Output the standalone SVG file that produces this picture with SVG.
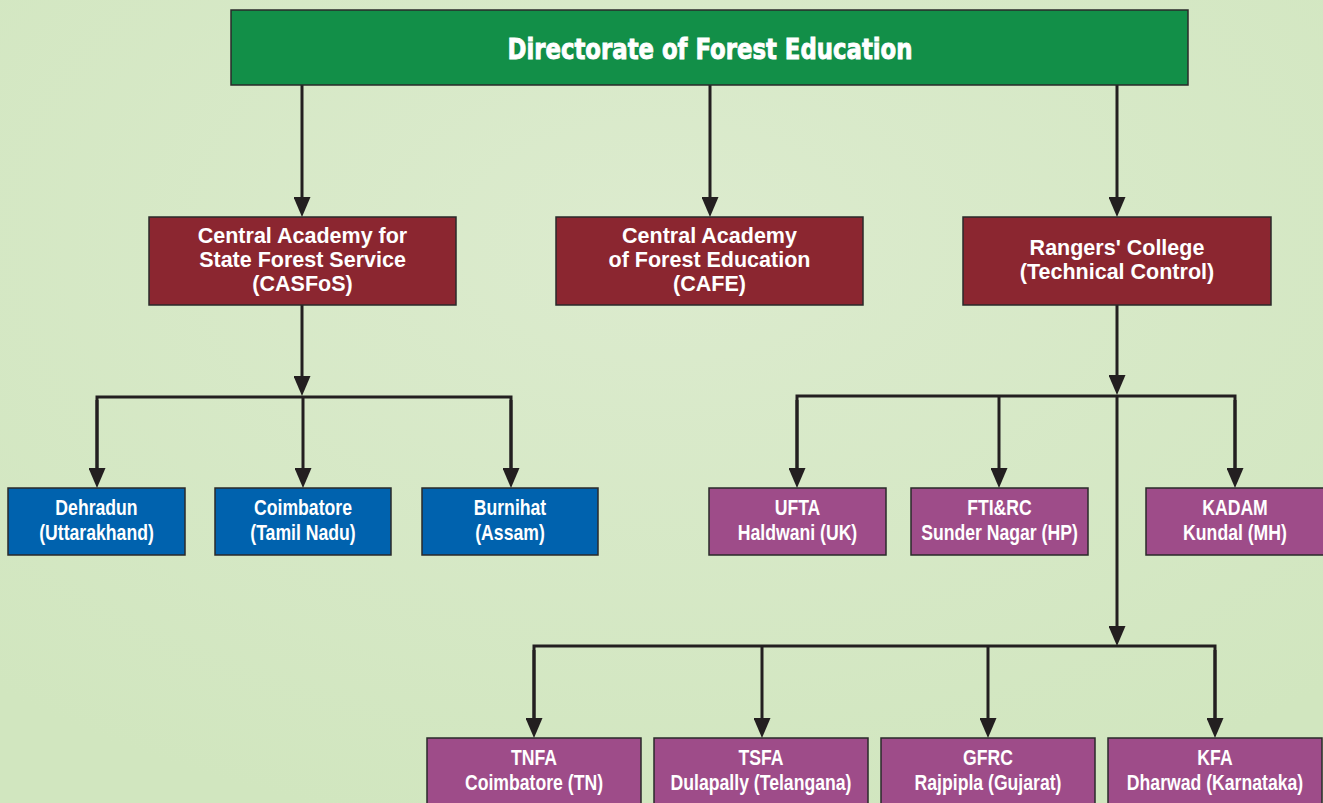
<svg xmlns="http://www.w3.org/2000/svg" width="1323" height="803" viewBox="0 0 1323 803">
<defs>
<radialGradient id="bg" cx="0.5" cy="0.3" r="0.75">
<stop offset="0" stop-color="#dcebce"/>
<stop offset="1" stop-color="#d1e6bf"/>
</radialGradient>
<marker id="ah" markerUnits="userSpaceOnUse" markerWidth="20" markerHeight="17" refX="14" refY="8.5" orient="auto" viewBox="0 0 20 17">
<path d="M0,0 L20,8.5 L0,17 Z" fill="#231f20"/>
</marker>
</defs>
<style>
.box{stroke:#2a2a2a;stroke-width:1.5}
.green{fill:#128f48}
.red{fill:#8b2630}
.blue{fill:#0062ae}
.purple{fill:#9e4c89}
.title{font-family:"DejaVu Sans",sans-serif;font-weight:bold;font-size:28px;fill:#fff;stroke:#fff;stroke-width:0.9;text-anchor:middle}
.mid{font-family:"Liberation Sans",Arial,sans-serif;font-weight:bold;font-size:21.5px;fill:#fff;text-anchor:middle}
.sm{font-family:"Liberation Sans",Arial,sans-serif;font-weight:bold;font-size:21.5px;fill:#fff;text-anchor:middle}
.ln{fill:none;stroke:#231f20;stroke-width:3}
.ar{fill:none;stroke:#231f20;stroke-width:3;marker-end:url(#ah)}
</style>
<rect width="1323" height="803" fill="url(#bg)"/>
<g id="connectors">
<line class="ar" x1="302" y1="85" x2="302" y2="211"/>
<line class="ar" x1="710" y1="85" x2="710" y2="211"/>
<line class="ar" x1="1117" y1="85" x2="1117" y2="211"/>
<line class="ar" x1="302" y1="305" x2="302" y2="390"/>
<polyline class="ln" points="97,482 97,397 511,397 511,482"/>
<line class="ar" x1="97" y1="400" x2="97" y2="482"/>
<line class="ar" x1="303" y1="397" x2="303" y2="482"/>
<line class="ar" x1="511" y1="400" x2="511" y2="482"/>
<line class="ar" x1="1117" y1="305" x2="1117" y2="389"/>
<polyline class="ln" points="797,482 797,396 1235,396 1235,482"/>
<line class="ar" x1="797" y1="400" x2="797" y2="482"/>
<line class="ar" x1="999" y1="396" x2="999" y2="482"/>
<line class="ar" x1="1235" y1="400" x2="1235" y2="482"/>
<line class="ar" x1="1117" y1="396" x2="1117" y2="640"/>
<polyline class="ln" points="534,732 534,646 1215,646 1215,732"/>
<line class="ar" x1="534" y1="650" x2="534" y2="732"/>
<line class="ar" x1="762" y1="646" x2="762" y2="732"/>
<line class="ar" x1="988" y1="646" x2="988" y2="732"/>
<line class="ar" x1="1215" y1="650" x2="1215" y2="732"/>
</g>
<g id="dfe">
<rect class="box green" x="231" y="10" width="957" height="75"/>
<text class="title" x="710" y="59" textLength="405" lengthAdjust="spacingAndGlyphs">Directorate of Forest Education</text>
</g>
<g id="casfos">
<rect class="box red" x="149" y="217" width="307" height="88"/>
<text class="mid" x="302.5" y="243">Central Academy for</text>
<text class="mid" x="302.5" y="267">State Forest Service</text>
<text class="mid" x="302.5" y="291">(CASFoS)</text>
</g>
<g id="cafe">
<rect class="box red" x="556" y="217" width="307" height="88"/>
<text class="mid" x="709.5" y="243">Central Academy</text>
<text class="mid" x="709.5" y="267">of Forest Education</text>
<text class="mid" x="709.5" y="291">(CAFE)</text>
</g>
<g id="rangers">
<rect class="box red" x="963" y="217" width="308" height="88"/>
<text class="mid" x="1117" y="255">Rangers' College</text>
<text class="mid" x="1117" y="279">(Technical Control)</text>
</g>
<g id="dehradun">
<rect class="box blue" x="8" y="488" width="177" height="67"/>
<text class="sm" transform="translate(96.5,515) scale(0.82,1)">Dehradun</text>
<text class="sm" transform="translate(96.5,540) scale(0.82,1)">(Uttarakhand)</text>
</g>
<g id="coimbatore">
<rect class="box blue" x="215" y="488" width="176" height="67"/>
<text class="sm" transform="translate(303,515) scale(0.82,1)">Coimbatore</text>
<text class="sm" transform="translate(303,540) scale(0.82,1)">(Tamil Nadu)</text>
</g>
<g id="burnihat">
<rect class="box blue" x="422" y="488" width="176" height="67"/>
<text class="sm" transform="translate(510,515) scale(0.82,1)">Burnihat</text>
<text class="sm" transform="translate(510,540) scale(0.82,1)">(Assam)</text>
</g>
<g id="ufta">
<rect class="box purple" x="709" y="488" width="177" height="67"/>
<text class="sm" transform="translate(797.5,515) scale(0.82,1)">UFTA</text>
<text class="sm" transform="translate(797.5,540) scale(0.82,1)">Haldwani (UK)</text>
</g>
<g id="ftirc">
<rect class="box purple" x="911" y="488" width="177" height="67"/>
<text class="sm" transform="translate(999.5,515) scale(0.82,1)">FTI&amp;RC</text>
<text class="sm" transform="translate(999.5,540) scale(0.82,1)">Sunder Nagar (HP)</text>
</g>
<g id="kadam">
<rect class="box purple" x="1146" y="488" width="178" height="67"/>
<text class="sm" transform="translate(1235,515) scale(0.82,1)">KADAM</text>
<text class="sm" transform="translate(1235,540) scale(0.82,1)">Kundal (MH)</text>
</g>
<g id="tnfa">
<rect class="box purple" x="427" y="738" width="214" height="67"/>
<text class="sm" transform="translate(534,765) scale(0.82,1)">TNFA</text>
<text class="sm" transform="translate(534,790) scale(0.82,1)">Coimbatore (TN)</text>
</g>
<g id="tsfa">
<rect class="box purple" x="654" y="738" width="214" height="67"/>
<text class="sm" transform="translate(761,765) scale(0.82,1)">TSFA</text>
<text class="sm" transform="translate(761,790) scale(0.82,1)">Dulapally (Telangana)</text>
</g>
<g id="gfrc">
<rect class="box purple" x="881" y="738" width="214" height="67"/>
<text class="sm" transform="translate(988,765) scale(0.82,1)">GFRC</text>
<text class="sm" transform="translate(988,790) scale(0.82,1)">Rajpipla (Gujarat)</text>
</g>
<g id="kfa">
<rect class="box purple" x="1108" y="738" width="214" height="67"/>
<text class="sm" transform="translate(1215,765) scale(0.82,1)">KFA</text>
<text class="sm" transform="translate(1215,790) scale(0.82,1)">Dharwad (Karnataka)</text>
</g>
</svg>
